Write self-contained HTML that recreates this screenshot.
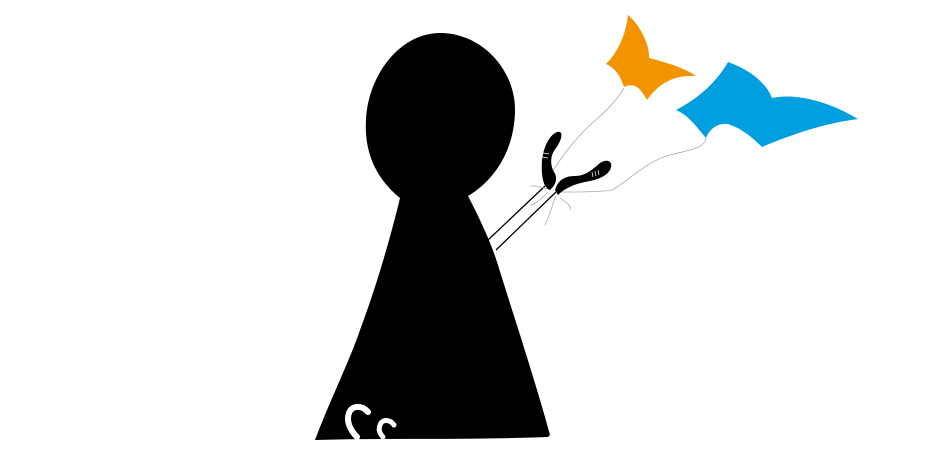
<!DOCTYPE html>
<html><head><style>html,body{margin:0;padding:0;background:#fff}svg{display:block}</style></head><body>
<svg width="932" height="460" viewBox="0 0 932 460" xmlns="http://www.w3.org/2000/svg">
<path d="M440,33 C482,33 516,70 515,112 C514,150 495,180 468,196 C478,215 490,240 497,262 C515,320 535,380 550,435 L548,437 C470,440 390,438 315,440 C330,400 350,360 360,330 C375,290 390,240 400,198 C378,180 364,155 366,120 C368,75 400,33 440,33 Z" fill="#000"/>
<path d="M368,412 C362,405 352,405 349,413 C346,421 350,430 357,437" fill="none" stroke="#fff" stroke-width="6" stroke-linecap="round"/>
<path d="M394,425 C390,419 382,419 380,425 C378,430 380,434 383,437" fill="none" stroke="#fff" stroke-width="5" stroke-linecap="round"/>
<line x1="488" y1="240" x2="545" y2="186" stroke="#000" stroke-width="1.3"/>
<line x1="496" y1="250" x2="556" y2="192" stroke="#000" stroke-width="1.3"/>
<path d="M624,88 C610,110 600,115 585,130 C570,145 560,160 552,172" fill="none" stroke="#aaa" stroke-width="0.8"/>
<path d="M706,138 C705,148 690,150 670,155 C645,162 630,180 612,190 C600,192 580,192 560,192" fill="none" stroke="#aaa" stroke-width="0.8"/>
<path d="M530,186 C540,185 545,190 548,188 M548,192 C540,200 535,205 530,205 M556,196 C552,205 550,215 545,225 M560,198 C565,202 572,205 570,210" fill="none" stroke="#aaa" stroke-width="0.8"/>
<path d="M557,132 C564,130 562,140 556,148 C550,155 550,165 554,172 C558,178 556,185 550,190 C543,188 541,175 542,160 C544,145 550,135 557,132 Z" fill="#000"/>
<path d="M555,190 C558,180 565,176 575,176 C585,176 592,170 600,163 C608,158 614,162 610,170 C605,178 595,180 585,182 C575,184 565,188 558,195 Z" fill="#000"/>
<g stroke="#fff" stroke-width="0.7"><line x1="543" y1="153" x2="549" y2="154"/><line x1="542" y1="157" x2="548" y2="158"/><line x1="592" y1="172" x2="593" y2="177"/><line x1="595" y1="171" x2="596" y2="176"/><line x1="598" y1="170" x2="599" y2="175"/></g>
<path d="M628,15 C640,25 650,45 649,58 C665,62 685,68 696,76 C675,75 660,82 647,100 C640,88 635,82 624,87 C620,75 615,68 606,64 C615,55 625,40 628,15 Z" fill="#f29400"/>
<path d="M728,62 C745,68 765,80 772,98 C800,92 835,105 858,119 C825,123 790,135 762,147 C750,135 740,128 728,124 C718,123 710,128 706,138 C695,125 688,115 676,110 C695,100 715,85 728,62 Z" fill="#009fdf"/>
</svg>
</body></html>
